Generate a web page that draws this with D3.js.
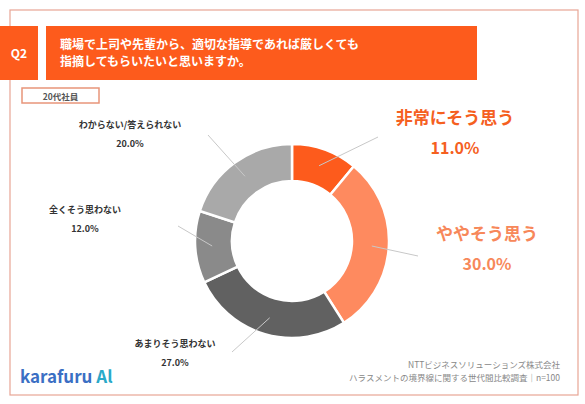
<!DOCTYPE html>
<html><head><meta charset="utf-8">
<script src="https://cdn.jsdelivr.net/npm/d3@7"></script>
<style>body{margin:0;background:#fff}text{font-family:"Noto Sans CJK JP","Noto Sans",sans-serif}</style>
</head><body><svg id="c" width="585" height="404"></svg>
<script>
const labels = ["非常にそう思う", "ややそう思う", "あまりそう思わない", "全くそう思わない", "わからない/答えられない"];
const values = [11.0, 30.0, 27.0, 12.0, 20.0];
const colors = ["#fd5b1c", "#fe8a5f", "#616161", "#8a8a8a", "#a9a9a9"];
// label anchor positions [x, y] and leader line ends
const labelPos = [[455, 124], [487, 240], [175, 347], [85, 213], [130, 128]];
const lineEnds = [[378, 137], [418, 256], [232, 352], [178, 226], [208, 135]];

const svg = d3.select("#c");
svg.append("rect").attr("x", 10).attr("y", 10).attr("width", 568).attr("height", 385)
  .attr("fill", "none").attr("stroke", "#e8a595").attr("stroke-width", 1.2);
svg.append("rect").attr("x", 0).attr("y", 26).attr("width", 38).attr("height", 54).attr("fill", "#fd5b1c");
svg.append("text").attr("x", 19).attr("y", 58).attr("text-anchor", "middle").attr("fill", "#fff")
  .attr("font-size", 12).attr("font-weight", "bold").text("Q2");
svg.append("rect").attr("x", 46).attr("y", 26).attr("width", 431).attr("height", 54).attr("fill", "#fd5b1c");
svg.append("text").attr("x", 60).attr("y", 49).attr("fill", "#fff").attr("font-size", 12).attr("font-weight", "bold")
  .text("職場で上司や先輩から、適切な指導であれば厳しくても");
svg.append("text").attr("x", 60).attr("y", 66).attr("fill", "#fff").attr("font-size", 12).attr("font-weight", "bold")
  .text("指摘してもらいたいと思いますか。");
svg.append("rect").attr("x", 22).attr("y", 88).attr("width", 77).attr("height", 15)
  .attr("fill", "#fff").attr("stroke", "#e8957a").attr("stroke-width", 1.5);
svg.append("text").attr("x", 60.5).attr("y", 99.5).attr("text-anchor", "middle").attr("font-size", 8.5)
  .attr("font-weight", "bold").attr("fill", "#555").text("20代社員");

const cx = 292, cy = 241, rOut = 97, rIn = 60;
const pie = d3.pie().sort(null).value(d => d)(values);
const arc = d3.arc().innerRadius(rIn).outerRadius(rOut);
const mid = d3.arc().innerRadius(80).outerRadius(80);
const g = svg.append("g").attr("transform", `translate(${cx},${cy})`);
g.selectAll("path").data(pie).join("path").attr("d", arc)
  .attr("fill", (d, i) => colors[i]).attr("stroke", "#fff").attr("stroke-width", 2.5);
g.selectAll("line").data(pie).join("line")
  .attr("x1", d => mid.centroid(d)[0]).attr("y1", d => mid.centroid(d)[1])
  .attr("x2", (d, i) => lineEnds[i][0] - cx).attr("y2", (d, i) => lineEnds[i][1] - cy)
  .attr("stroke", "#c8c8c8").attr("stroke-width", 1);

labels.forEach((l, i) => {
  const big = i < 2;
  const col = i === 0 ? "#f5601f" : i === 1 ? "#f7885a" : "#333";
  const [x, y] = labelPos[i];
  svg.append("text").attr("x", x).attr("y", y).attr("text-anchor", "middle")
    .attr("font-size", big ? 17 : 9).attr("font-weight", "bold").attr("fill", col).text(l);
  svg.append("text").attr("x", x).attr("y", y + (big ? 30 : 19)).attr("text-anchor", "middle")
    .attr("font-size", big ? 16 : 9).attr("font-weight", "bold").attr("fill", col)
    .text(values[i].toFixed(1) + "%");
});

svg.append("text").attr("x", 20).attr("y", 383).attr("font-size", 17).attr("font-weight", "bold")
  .attr("fill", "#3b6fc4").text("karafuru").append("tspan").attr("fill", "#2aa9c9").text(" Al");
svg.append("text").attr("x", 560).attr("y", 368).attr("text-anchor", "end").attr("font-size", 8.5)
  .attr("fill", "#888").text("NTTビジネスソリューションズ株式会社");
svg.append("text").attr("x", 560).attr("y", 381).attr("text-anchor", "end").attr("font-size", 8.5)
  .attr("fill", "#888").text("ハラスメントの境界線に関する世代間比較調査｜n=100");
</script></body></html>
